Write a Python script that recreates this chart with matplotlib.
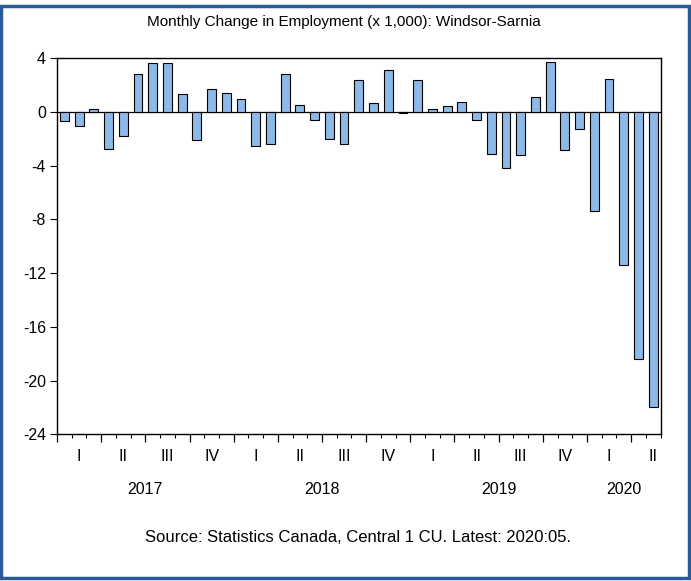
import numpy as np
import matplotlib.pyplot as plt
from matplotlib.patches import Rectangle
import matplotlib.transforms as mtransforms

plt.rcParams['font.family'] = ['Liberation Sans', 'DejaVu Sans']

# monthly change in employment, thousands (Jan 2017 - May 2020)
chg_2017 = [-0.67, -1.06, 0.22, -2.72, -1.78, 2.84, 3.63, 3.68, 1.36, -2.05, 1.70, 1.38]
chg_2018 = [0.96, -2.54, -2.37, 2.84, 0.52, -0.59, -1.98, -2.35, 2.37, 0.67, 3.14, -0.05]
chg_2019 = [2.40, 0.25, 0.42, 0.72, -0.62, -3.11, -4.20, -3.23, 1.11, 3.70, -2.81, -1.28]
chg_2020 = [-7.37, 2.47, -11.40, -18.40, -22.00]

years = ['2017', '2018', '2019', '2020']
quarters = ['I', 'II', 'III', 'IV']
yticks = [4, 0, -4, -8, -12, -16, -20, -24]

values = np.array(chg_2017 + chg_2018 + chg_2019 + chg_2020)
n = len(values)
x = np.arange(n)

fig = plt.figure(figsize=(6.91, 5.81), dpi=100)
ax = fig.add_axes([0.0825, 0.2525, 0.8735, 0.6472])

ax.bar(x, values, width=0.6, color='#8DB9E7', edgecolor='black', linewidth=0.8, zorder=3)
ax.axhline(0, color='black', linewidth=0.9, zorder=2)

ax.set_xlim(-0.5, n - 0.5)
ax.set_ylim(-24, 4)
ax.set_yticks(yticks)
ax.set_yticklabels([str(v) for v in yticks], fontsize=11.5)
ax.tick_params(axis='y', direction='out', length=5, width=0.8, pad=3)

# month ticks short, quarter ticks long
ax.set_xticks(np.arange(-0.5, n, 3))
ax.set_xticks(np.arange(-0.5, n, 1), minor=True)
ax.set_xticklabels([])
ax.tick_params(axis='x', which='major', direction='out', length=6, width=0.9)
ax.tick_params(axis='x', which='minor', direction='out', length=3, width=0.8)

for s in ax.spines.values():
    s.set_linewidth(1.0)

trans = mtransforms.blended_transform_factory(ax.transData, ax.transAxes)
for i in range(1, n + 1, 3):
    q = quarters[(i // 3) % 4]
    ax.text(i, -0.06, q, transform=trans, ha='center', va='center', fontsize=11.5)

year_pos = [5.5, 17.5, 29.5, 38]
for yp, yr in zip(year_pos, years):
    ax.text(yp, -0.148, yr, transform=trans, ha='center', va='center', fontsize=11.5)

fig.text(0.497, 1 - 22 / 581, 'Monthly Change in Employment (x 1,000): Windsor-Sarnia',
         ha='center', va='center', fontsize=11)
fig.text(0.518, 1 - 537 / 581, 'Source: Statistics Canada, Central 1 CU. Latest: 2020:05.',
         ha='center', va='center', fontsize=12)

# outer frame
fig.patches.append(Rectangle((1.2 / 691, 3 / 581), 687.5 / 691, 572.5 / 581,
                             transform=fig.transFigure, fill=False,
                             edgecolor='#2A5A98', linewidth=2.5))

fig.savefig('out.png', dpi=100)
